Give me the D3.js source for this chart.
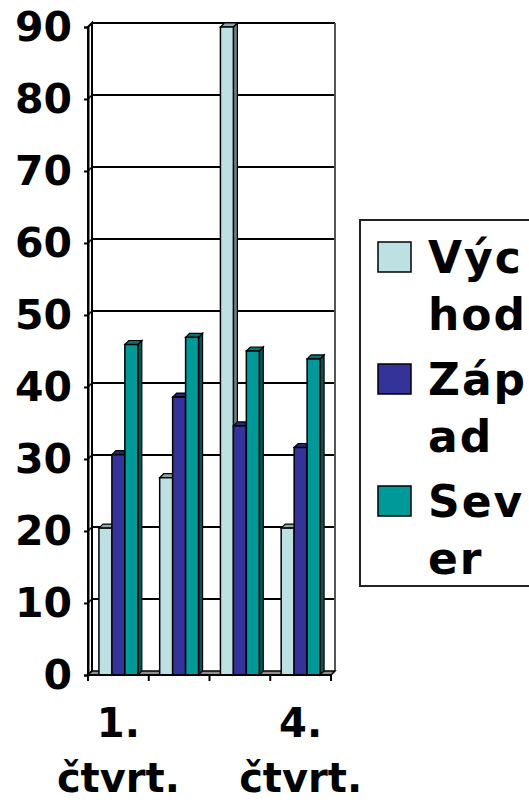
<!DOCTYPE html>
<html>
<head>
<meta charset="utf-8">
<script src="https://cdn.jsdelivr.net/npm/d3@7"></script>
<style>
  body { margin: 0; background: #fff; }
  text { font-family: "DejaVu Sans", sans-serif; font-weight: bold; }
</style>
</head>
<body>
<div id="chart"></div>
<script>
const categories = ["1. čtvrt.", "2. čtvrt.", "3. čtvrt.", "4. čtvrt."];
const seriesNames = ["Východ", "Západ", "Sever"];
const legendLines = [["Výc", "hod"], ["Záp", "ad"], ["Sev", "er"]];
const vychod = [20.4, 27.4, 90, 20.4];
const zapad = [30.6, 38.6, 34.6, 31.6];
const sever = [45.9, 46.9, 45, 43.9];
const yTicks = [0, 10, 20, 30, 40, 50, 60, 70, 80, 90];
const colors = ["#bde0e3", "#333399", "#009999"];

const series = [vychod, zapad, sever];
const width = 529, height = 803;
const depth = 4;

const svg = d3.select("#chart").append("svg")
  .attr("width", width).attr("height", height);

// front plane scales, back wall is shifted by depth
const y = d3.scaleLinear().domain([0, 90]).range([675, 27]);
const x0 = d3.scaleBand().domain(categories).range([88, 331]);
const x1 = d3.scaleBand().domain(seriesNames)
  .range([x0.bandwidth() * 0.18, x0.bandwidth() * 0.82]);

// back wall gridlines
svg.append("g")
  .selectAll("line")
  .data(yTicks.slice(1))
  .join("line")
  .attr("x1", 88 + depth).attr("x2", 331 + depth)
  .attr("y1", d => y(d) - depth).attr("y2", d => y(d) - depth)
  .attr("stroke", "#000").attr("stroke-width", 2);

// right edge of back wall
svg.append("line")
  .attr("x1", 331 + depth).attr("x2", 331 + depth)
  .attr("y1", y(90) - depth).attr("y2", y(0) - depth)
  .attr("stroke", "#555").attr("stroke-width", 2);

// left wall
svg.append("path")
  .attr("d", `M88,${y(0)} L88,${y(90)} L${88 + depth},${y(90) - depth} L${88 + depth},${y(0) - depth} Z`)
  .attr("fill", "#fff").attr("stroke", "#000").attr("stroke-width", 2);

svg.append("g")
  .selectAll("line")
  .data(yTicks.slice(1))
  .join("line")
  .attr("x1", 88).attr("x2", 88 + depth)
  .attr("y1", d => y(d)).attr("y2", d => y(d) - depth)
  .attr("stroke", "#000").attr("stroke-width", 1.5);

// floor
svg.append("path")
  .attr("d", `M88,${y(0)} L331,${y(0)} L${331 + depth},${y(0) - depth} L${88 + depth},${y(0) - depth} Z`)
  .attr("fill", "#909090").attr("stroke", "#000").attr("stroke-width", 1.5);

// bars
const groups = svg.append("g")
  .selectAll("g")
  .data(categories)
  .join("g")
  .attr("transform", d => `translate(${x0(d)},0)`);

groups.each(function (cat, ci) {
  const g = d3.select(this);
  seriesNames.forEach((name, si) => {
    const v = series[si][ci];
    const bx = x1(name), bw = x1.bandwidth();
    const top = y(v), bottom = y(0);
    const c = d3.color(colors[si]);
    // side
    g.append("path")
      .attr("d", `M${bx + bw},${top} L${bx + bw + depth},${top - depth} L${bx + bw + depth},${bottom - depth} L${bx + bw},${bottom} Z`)
      .attr("fill", c.darker(1.6)).attr("stroke", "#000").attr("stroke-width", 1.2);
    // top
    g.append("path")
      .attr("d", `M${bx},${top} L${bx + depth},${top - depth} L${bx + bw + depth},${top - depth} L${bx + bw},${top} Z`)
      .attr("fill", c.darker(0.8)).attr("stroke", "#000").attr("stroke-width", 1.2);
    // front
    g.append("rect")
      .attr("x", bx).attr("y", top)
      .attr("width", bw).attr("height", bottom - top)
      .attr("fill", colors[si]).attr("stroke", "#000").attr("stroke-width", 1.5);
  });
});

// y axis
const yAxis = svg.append("g")
  .attr("transform", "translate(88,0)")
  .call(d3.axisLeft(y).tickValues(yTicks).tickSize(4).tickPadding(12));
yAxis.select(".domain").attr("stroke-width", 2);
yAxis.selectAll(".tick line").attr("stroke-width", 2);
yAxis.selectAll("text")
  .attr("font-size", 41).attr("fill", "#000")
  .attr("font-family", "DejaVu Sans").attr("font-weight", "bold");

// x axis: ticks at category boundaries, labels every third category
const xAxis = svg.append("g").attr("transform", `translate(0,${y(0)})`);
xAxis.append("line")
  .attr("x1", 88).attr("x2", 331).attr("stroke", "#000").attr("stroke-width", 2);
xAxis.selectAll("line.tk")
  .data(categories.concat(["end"]))
  .join("line")
  .attr("class", "tk")
  .attr("x1", (d, i) => 88 + i * x0.bandwidth())
  .attr("x2", (d, i) => 88 + i * x0.bandwidth())
  .attr("y1", 0).attr("y2", 6)
  .attr("stroke", "#000").attr("stroke-width", 2);
xAxis.selectAll("text.lbl")
  .data(categories.filter((d, i) => i % 3 === 0))
  .join("text")
  .attr("class", "lbl")
  .attr("text-anchor", "middle")
  .attr("font-size", 40)
  .attr("transform", d => `translate(${x0(d) + x0.bandwidth() / 2},0)`)
  .selectAll("tspan")
  .data(d => d.split(" "))
  .join("tspan")
  .attr("x", 0)
  .attr("y", (d, i) => 62 + i * 55)
  .text(d => d);

// legend
const legend = svg.append("g");
legend.append("rect")
  .attr("x", 360).attr("y", 220).attr("width", 200).attr("height", 366)
  .attr("fill", "#fff").attr("stroke", "#222").attr("stroke-width", 2);
seriesNames.forEach((name, i) => {
  const base = 273 + i * 122;
  legend.append("rect")
    .attr("x", 378).attr("y", base - 31).attr("width", 33).attr("height", 30)
    .attr("fill", colors[i]).attr("stroke", "#000").attr("stroke-width", 1.5);
  legend.append("text")
    .attr("font-size", 44)
    .attr("letter-spacing", 2)
    .selectAll("tspan")
    .data(legendLines[i])
    .join("tspan")
    .attr("x", 428)
    .attr("y", (d, j) => base + j * 57)
    .text(d => d);
});
</script>
</body>
</html>
